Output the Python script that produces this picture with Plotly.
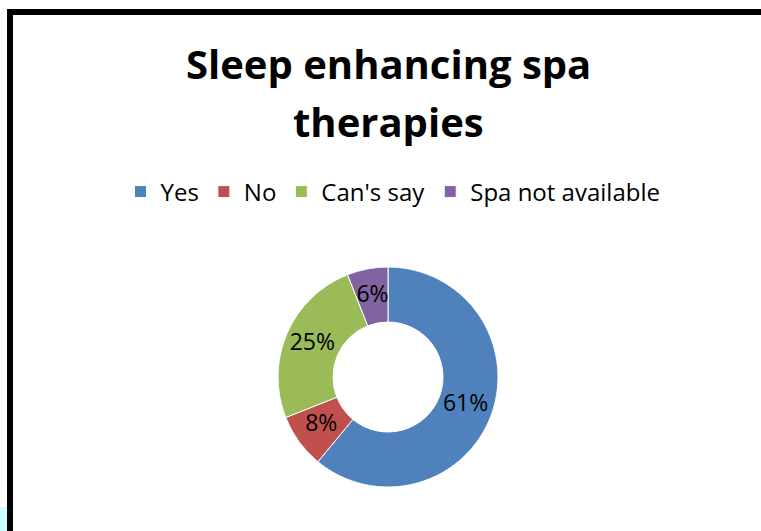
import numpy as np
import plotly.graph_objects as go

W, H = 761, 531

labels = ["Yes", "No", "Can's say", "Spa not available"]
values = [61, 8, 25, 6]
colors = ["#4F81BD", "#C0504D", "#9BBB59", "#8064A2"]
title_lines = ["Sleep enhancing spa", "therapies"]

def px_x(x):
    return x / W

def px_y(y):
    return 1 - y / H

dom = dict(x=[px_x(278), px_x(498)], y=[px_y(487), px_y(267)])

vals = np.array(values, dtype=float)
share = vals / vals.sum()
mid_angle = (np.cumsum(share) - share / 2) * 360
span = share * 360

fig = go.Figure()

# donut ring drawn as polar bars (outer half of the radius), one trace per category
for i, lab in enumerate(labels):
    fig.add_trace(go.Barpolar(
        name=lab,
        r=[0.5], base=[0.5], theta=[mid_angle[i]], width=[span[i]],
        marker=dict(color=colors[i], line=dict(color="white", width=1)),
        hovertext=["%s: %d%%" % (lab, values[i])], hoverinfo="text",
    ))

# percent labels at the middle of each segment
fig.add_trace(go.Scatterpolar(
    r=[0.75] * len(values), theta=mid_angle,
    mode="text",
    text=["%d%%" % round(s * 100) for s in share],
    textfont=dict(family="Open Sans", size=23, color="black"),
    showlegend=False, hoverinfo="skip",
))

# title as two lines so the line gap matches
for txt, yc in zip(title_lines, [63, 122]):
    fig.add_annotation(text="<b>%s</b>" % txt, x=px_x(388), y=px_y(yc),
                       xref="paper", yref="paper", showarrow=False,
                       xanchor="center", yanchor="middle",
                       font=dict(family="Open Sans", size=40, color="black"))

# black frame on top and left, light corner patch
shapes = [
    dict(type="rect", xref="paper", yref="paper", x0=px_x(7), x1=1, y0=px_y(15), y1=px_y(9),
         fillcolor="black", line=dict(width=0)),
    dict(type="rect", xref="paper", yref="paper", x0=px_x(7), x1=px_x(13), y0=0, y1=px_y(9),
         fillcolor="black", line=dict(width=0)),
    dict(type="rect", xref="paper", yref="paper", x0=0, x1=px_x(7), y0=0, y1=px_y(507),
         fillcolor="#CCFFFF", line=dict(width=0)),
]

fig.update_layout(
    width=W, height=H,
    margin=dict(l=0, r=0, t=0, b=0),
    paper_bgcolor="white",
    plot_bgcolor="white",
    shapes=shapes,
    showlegend=True,
    barmode="overlay",
    polar=dict(
        domain=dom, bgcolor="rgba(0,0,0,0)",
        radialaxis=dict(range=[0, 1], visible=False, showgrid=False),
        angularaxis=dict(rotation=90, direction="clockwise", visible=False, showgrid=False),
    ),
    legend=dict(orientation="h", x=px_x(393), y=px_y(192), xanchor="center", yanchor="middle",
                font=dict(family="Open Sans", size=24, color="black"),
                itemwidth=30, tracegroupgap=0),
)

fig.write_html("out.html", config={"displayModeBar": False},
               post_script="document.body.style.margin='0';")
